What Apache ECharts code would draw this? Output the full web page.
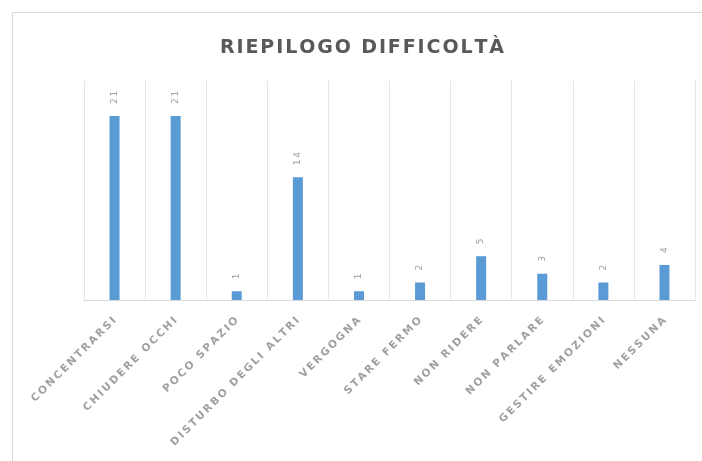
<!DOCTYPE html>
<html>
<head>
<meta charset="utf-8">
<script src="https://cdn.jsdelivr.net/npm/echarts@6/dist/echarts.min.js"></script>
<style>
  html, body { margin: 0; padding: 0; background: #fff; }
  #chart { width: 702px; height: 461px; }
</style>
</head>
<body>
<div id="chart"></div>
<script>
const categories = ['CONCENTRARSI', 'CHIUDERE OCCHI', 'POCO SPAZIO', 'DISTURBO DEGLI ALTRI', 'VERGOGNA',
  'STARE FERMO', 'NON RIDERE', 'NON PARLARE', 'GESTIRE EMOZIONI', 'NESSUNA']
const values = [21, 21, 1, 14, 1, 2, 5, 3, 2, 4]

// loose letter spacing like the original labels
const spaced = s => s.split('').join('\u2009')

const chart = echarts.init(document.getElementById('chart'))
chart.setOption({
  animation: false,
  backgroundColor: '#fff',
  graphic: [{
    type: 'rect',
    shape: { x: 12.5, y: 12.5, width: 720, height: 480 },
    style: { fill: 'none', stroke: '#d9d9d9', lineWidth: 1 }
  }],
  title: {
    text: 'RIEPILOGO DIFFICOLTÀ'.split('').join('\u200A'),
    left: 215,
    top: 34,
    textStyle: {
      fontFamily: 'DejaVu Sans',
      fontWeight: 'bold',
      fontSize: 19,
      color: '#595959'
    }
  },
  grid: { left: 84, right: 7, top: 81, bottom: 161 },
  xAxis: {
    type: 'category',
    data: categories,
    axisLine: { lineStyle: { color: '#d9d9d9' } },
    axisTick: { show: false },
    splitLine: { show: true, lineStyle: { color: '#e6e6e6' } },
    axisLabel: {
      interval: 0,
      rotate: 45,
      fontFamily: 'DejaVu Sans',
      fontWeight: 'bold',
      fontSize: 10.5,
      color: '#a0a0a0',
      margin: 19,
      formatter: spaced
    }
  },
  yAxis: {
    type: 'value',
    min: 0,
    max: 25,
    show: false,
    splitLine: { show: false }
  },
  series: [{
    type: 'bar',
    data: values,
    barWidth: 10,
    itemStyle: { color: '#5b9bd5' },
    label: {
      show: true,
      position: 'top',
      rotate: 90,
      align: 'left',
      verticalAlign: 'middle',
      distance: 12,
      fontFamily: 'DejaVu Sans',
      fontSize: 9,
      color: '#a0a0a0',
      formatter: p => spaced(String(p.value))
    }
  }]
})
</script>
</body>
</html>
